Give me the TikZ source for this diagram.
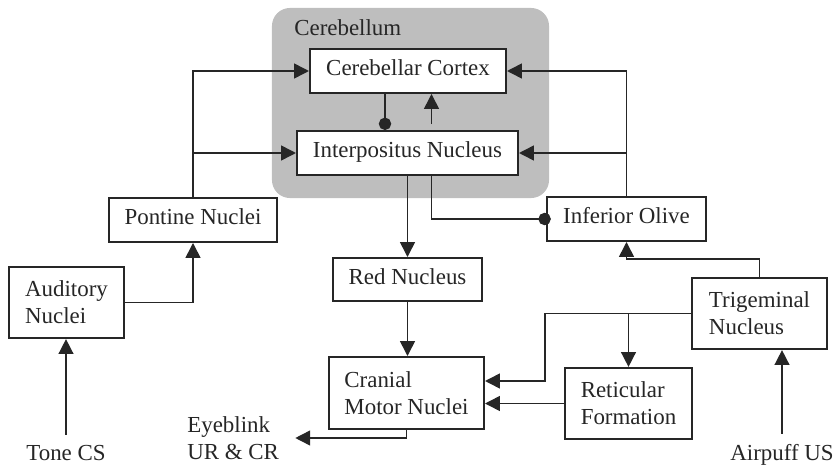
\documentclass[tikz,border=0pt]{standalone}
\usepackage{fontspec}
\setmainfont{Liberation Serif}
\usetikzlibrary{arrows.meta,positioning,calc}
\definecolor{ink}{HTML}{262626}
\definecolor{cbg}{HTML}{BEBEBE}
\tikzset{
  box/.style={draw=ink,line width=1.4pt,fill=white,inner sep=0pt,text=ink},
  sbox/.style={box,minimum height=1.1cm,text height=0.66em,text depth=0pt},
  mbox/.style={box,minimum height=1.78cm,align=left},
  lbl/.style={text=ink,inner sep=0.25cm},
  ar/.style={-{Triangle[length=0.37cm,width=0.37cm]},line width=1.1pt,draw=ink},
  dt/.style={-{Circle[length=0.31cm]},line width=1.1pt,draw=ink},
}

\begin{document}
\begin{tikzpicture}[x=0.025cm,y=-0.025cm,font=\fontsize{16.3pt}{19pt}\selectfont]
\useasboundingbox (0,0) rectangle (835,466);
% cerebellum
\node[fill=cbg,rounded corners=0.45cm,minimum width=6.925cm,minimum height=4.75cm,inner sep=0pt] (cbm) at (410.5,103) {};
\node[lbl,inner sep=0pt,anchor=base west] (cbl) at (294,36) {Cerebellum};
\node[sbox,minimum width=4.9cm] (cc) at (408,71) {Cerebellar Cortex};
\node[sbox,minimum width=5.525cm] (ip) at (407.5,153) {Interpositus Nucleus};
% left side
\node[sbox,minimum width=4.2cm] (pn) at (193,220) {Pontine Nuclei};
\node[mbox,minimum width=2.875cm] (an) at (66.5,302.5) {Auditory\\Nuclei};
\node[lbl,anchor=base] (tone) at (66,460) {Tone CS};
% middle
\node[sbox,minimum width=3.725cm,minimum height=1.075cm] (rn) at (407.5,279.5) {Red Nucleus};
\node[mbox,minimum width=3.875cm,minimum height=1.8cm] (cmn) at (406.5,393) {Cranial\\Motor Nuclei};
\node[lbl,inner xsep=0.4cm,align=left,anchor=west] (eye) at (171,438) {Eyeblink\\UR \& CR};
% right side
\node[sbox,minimum width=3.975cm] (io) at (626.5,219) {Inferior Olive};
\node[mbox,minimum width=3.375cm] (tn) at (759.5,313.5) {Trigeminal\\Nucleus};
\node[mbox,minimum width=3.175cm] (rf) at (628.5,403.5) {Reticular\\Formation};
\node[lbl,anchor=base] (air) at (782,460) {Airpuff US};

% mossy fibre input
\draw[ar] (pn.north) |- (cc.west);
\draw[ar] (pn.north) |- (ip.west);
% climbing fibre input
\draw[ar] (io.north) |- (cc.east);
\draw[ar] (io.north) |- (ip.east);
% cortex <-> interpositus
\coordinate (dA) at ([xshift=-0.575cm]cc.south);
\draw[dt] (dA) -- (dA |- ip.north);
\coordinate (uA) at ([xshift=0.6cm]ip.north);
\draw[ar,shorten <=0.15cm] (uA) -- (uA |- cc.south);
% outputs
\draw[ar] (ip.south) -- (rn.north);
\coordinate (uB) at ([xshift=0.6cm]ip.south);
\draw[dt,shorten >=-0.12cm] (uB) |- (io.west);
\draw[ar] (rn.south) -- (rn.south |- cmn.north);
\draw[ar] (cmn.south) |- (eye.east);
% CS pathway
\draw[ar] (tone.north) -- (tone.north |- an.south);
\draw[ar] (an.east) -| (pn.south);
% US pathway
\draw[ar] (air.north) -- (air.north |- tn.south);
\draw[ar] (tn.north) -- ++(0,-18) -| (io.south);
\coordinate (cA) at ([yshift=0.3cm]cmn.east);
\draw[ar] (tn.west) -| ([xshift=1.5cm]cA) -- (cA);
\draw[ar] (rf.north |- tn.west) -- (rf.north);
\draw[ar] (rf.west) -- (rf.west -| cmn.east);
\end{tikzpicture}
\end{document}
